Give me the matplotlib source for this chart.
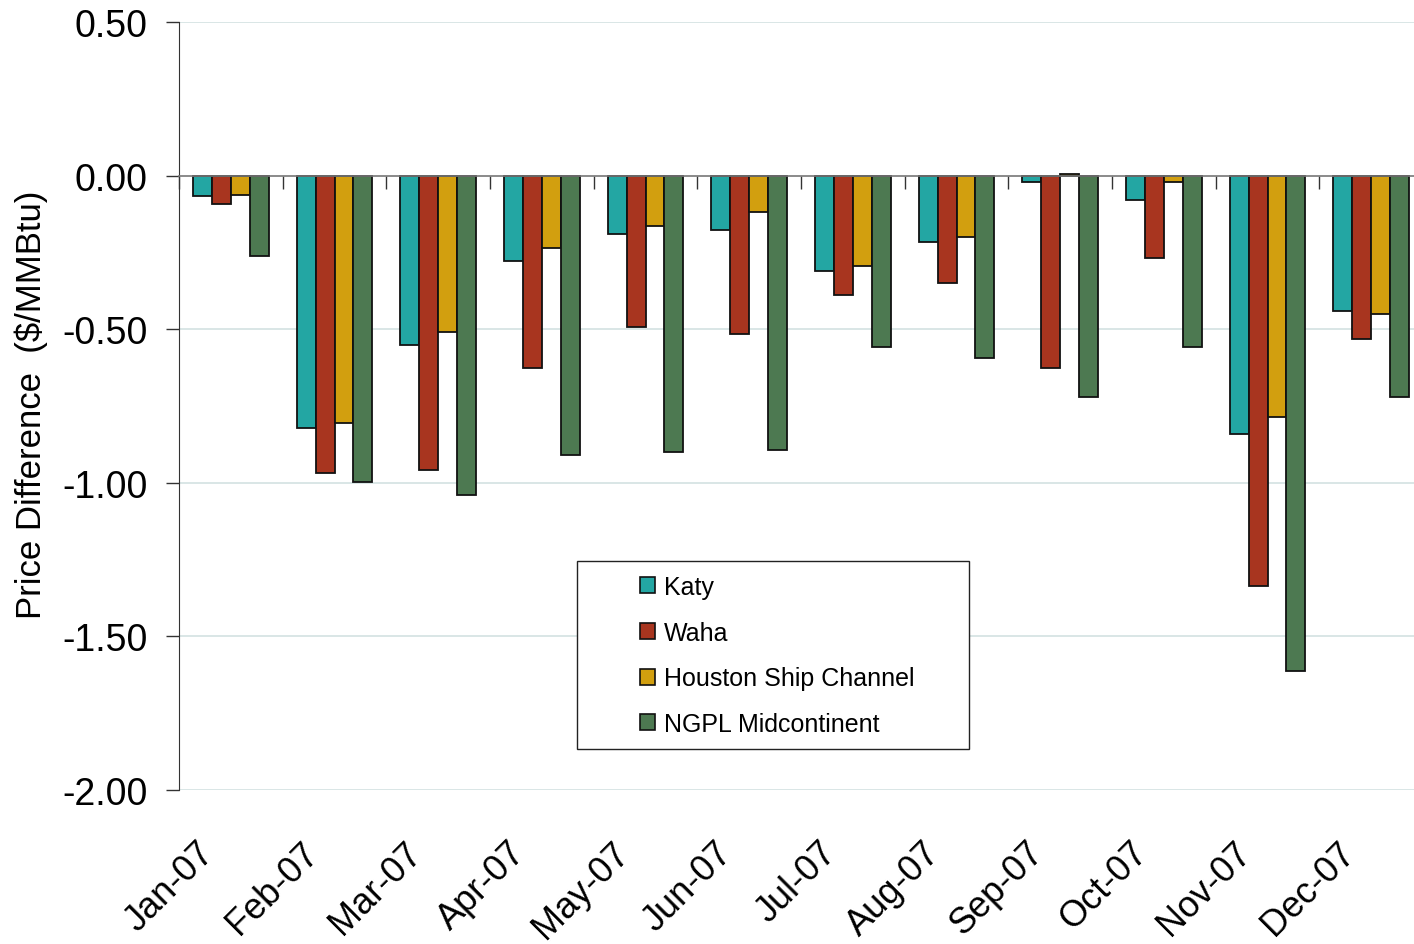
import numpy as np
import matplotlib
matplotlib.use("Agg")
import matplotlib.pyplot as plt
from matplotlib.patches import Patch, Rectangle

months = ["Jan-07", "Feb-07", "Mar-07", "Apr-07", "May-07", "Jun-07",
          "Jul-07", "Aug-07", "Sep-07", "Oct-07", "Nov-07", "Dec-07"]
katy = [-0.067, -0.82, -0.55, -0.279, -0.189, -0.178, -0.309, -0.215, -0.020, -0.078, -0.84, -0.44]
waha = [-0.092, -0.967, -0.957, -0.625, -0.493, -0.515, -0.389, -0.348, -0.625, -0.268, -1.335, -0.531]
houston = [-0.062, -0.805, -0.51, -0.237, -0.163, -0.120, -0.294, -0.200, 0.006, -0.020, -0.787, -0.45]
ngpl = [-0.263, -0.999, -1.041, -0.910, -0.899, -0.893, -0.557, -0.594, -0.720, -0.557, -1.614, -0.720]

series = ["Katy", "Waha", "Houston Ship Channel", "NGPL Midcontinent"]
colors = ["#23A6A3", "#A8351F", "#D29F0F", "#4D7951"]
yticks = [0.5, 0.0, -0.5, -1.0, -1.5, -2.0]
ytick_labels = ["0.50", "0.00", "-0.50", "-1.00", "-1.50", "-2.00"]

plt.rcParams['font.family'] = ['Liberation Sans', 'DejaVu Sans']

W, H = 1414, 945
fig = plt.figure(figsize=(W / 100, H / 100), dpi=100)
# axes placed in pixel terms of the reference
ax = fig.add_axes([179 / W, (H - 791) / H, 1244 / W, 768 / H])

x = np.arange(len(months))
bw = 0.183
data = [katy, waha, houston, ngpl]
for k, (vals, c) in enumerate(zip(data, colors)):
    ax.bar(x + (k - 1.5) * bw, vals, bw, color=c, edgecolor="#111111",
           linewidth=1.3, zorder=3)

ax.set_xlim(-0.5, len(months) - 0.5)
ax.set_ylim(-2.0, 0.5)

# grid
for v in yticks:
    if v != 0:
        ax.axhline(v, color="#D3E2E2", linewidth=1.2, zorder=1)

ax.set_yticks(yticks)
ax.set_yticklabels(ytick_labels, fontsize=27)
ax.tick_params(axis="y", direction="out", length=9.5, width=1, pad=13,
               color="#333333")

# x axis sits at zero, ticks between groups
ax.spines["bottom"].set_position(("data", 0))
ax.spines["bottom"].set_color("#777777")
ax.spines["bottom"].set_linewidth(1.2)
ax.spines["bottom"].set_zorder(4)
ax.spines["left"].set_color("#333333")
ax.spines["top"].set_visible(False)
ax.spines["right"].set_visible(False)
ax.set_xticks(np.arange(-0.5, len(months)))
ax.set_xticklabels([])
ax.tick_params(axis="x", direction="out", length=9.5, width=1, color="#333333")

for i, m in enumerate(months):
    ax.text(i - 0.33, -0.058, m, transform=ax.get_xaxis_transform(),
            rotation=45, ha="right", va="top", rotation_mode="anchor",
            fontsize=26)

ax.set_ylabel("Price Difference  ($/MMBtu)", fontsize=25)
ax.yaxis.label.set_va("center")
ax.yaxis.set_label_coords(-0.119, 0.503)

# legend box
box = Rectangle((0.320, 0.053), 0.315, 0.245, transform=ax.transAxes,
                facecolor="white", edgecolor="#222222", linewidth=1, zorder=5)
ax.add_patch(box)
handles = [Patch(facecolor=c, edgecolor="#111111", linewidth=1.2) for c in colors]
leg = ax.legend(handles, series, loc="upper left", bbox_to_anchor=(0.3706, 0.280),
                frameon=False, fontsize=18, handlelength=0.6, handleheight=0.6,
                handletextpad=0.35, labelspacing=0.87, borderpad=0, borderaxespad=0)
leg.set_zorder(6)

fig.savefig("out.png", dpi=100)
